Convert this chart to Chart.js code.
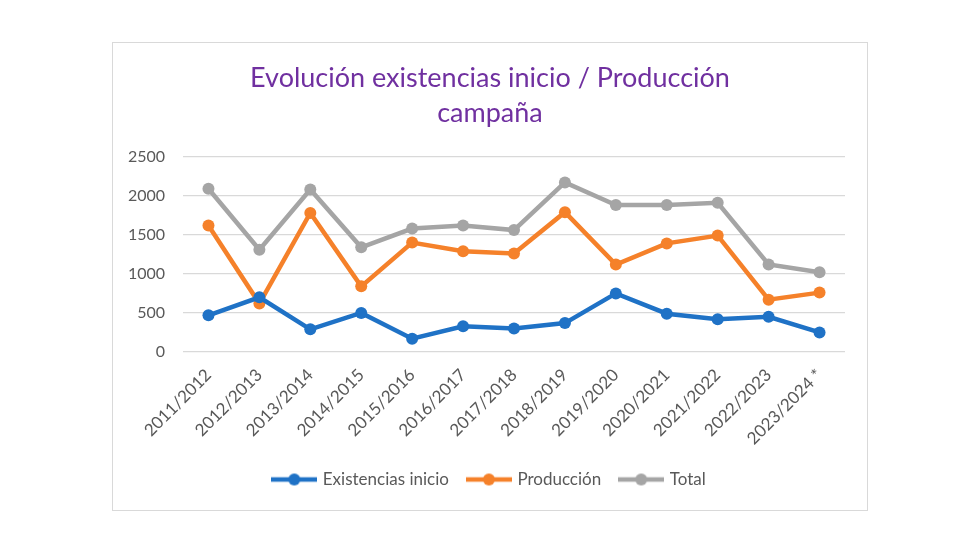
<!DOCTYPE html>
<html>
<head>
<meta charset="utf-8">
<script src="https://cdn.jsdelivr.net/npm/chart.js@4/dist/chart.umd.min.js"></script>
<style>
  body { margin: 0; background: #ffffff; }
  #box {
    position: absolute; left: 112px; top: 42px;
    width: 754px; height: 467px;
    border: 1px solid #d9d9d9; background: #ffffff;
  }
</style>
</head>
<body>
<div id="box"><canvas id="evolucionChart" width="754" height="467"></canvas></div>
<script>
var campanas = ['2011/2012', '2012/2013', '2013/2014', '2014/2015', '2015/2016', '2016/2017',
    '2017/2018', '2018/2019', '2019/2020', '2020/2021', '2021/2022', '2022/2023', '2023/2024 *'];
var existenciasInicio = [470, 700, 290, 500, 170, 330, 300, 370, 750, 490, 420, 450, 250];
var produccion = [1620, 620, 1780, 840, 1400, 1290, 1260, 1790, 1120, 1390, 1490, 670, 760];
var total = [2090, 1310, 2080, 1340, 1580, 1620, 1560, 2170, 1880, 1880, 1910, 1120, 1020];
var yTicks = [0, 500, 1000, 1500, 2000, 2500];

document.addEventListener('DOMContentLoaded', function() {
    var font = "Lato, 'Open Sans', sans-serif";

    // legend marker: short line with a dot in the middle
    function legendMarker(color) {
        var c = document.createElement('canvas');
        c.width = 46;
        c.height = 14;
        var g = c.getContext('2d');
        g.strokeStyle = color;
        g.lineWidth = 4.5;
        g.beginPath();
        g.moveTo(0, 7);
        g.lineTo(46, 7);
        g.stroke();
        g.fillStyle = color;
        g.beginPath();
        g.arc(23, 7, 6, 0, Math.PI * 2);
        g.fill();
        return c;
    }

    function serie(label, data, color) {
        return {
            label: label,
            data: data,
            borderColor: color,
            backgroundColor: color,
            borderWidth: 4.5,
            pointRadius: 6,
            pointHoverRadius: 6,
            pointBorderWidth: 0,
            pointStyle: 'circle',
            tension: 0,
            marker: legendMarker(color)
        };
    }

    var ctx = document.getElementById('evolucionChart').getContext('2d');
    new Chart(ctx, {
        type: 'line',
        data: {
            labels: campanas,
            datasets: [
                serie('Existencias inicio', existenciasInicio, '#1f72c6'),
                serie('Producción', produccion, '#f5812a'),
                serie('Total', total, '#a5a5a5')
            ]
        },
        options: {
            responsive: false,
            animation: false,
            layout: { padding: { left: 10, right: 10, top: 8, bottom: 12 } },
            plugins: {
                title: {
                    display: true,
                    text: ['Evolución existencias inicio / Producción', 'campaña'],
                    color: '#7030a0',
                    font: { family: font, size: 27, weight: 'normal', lineHeight: 1.29 },
                    padding: { top: 10, bottom: 26 }
                },
                legend: {
                    position: 'bottom',
                    labels: {
                        color: '#595959',
                        font: { family: font, size: 17 },
                        usePointStyle: true,
                        pointStyleWidth: 40,
                        padding: 20,
                        generateLabels: function(chart) {
                            return chart.data.datasets.map(function(ds, i) {
                                return {
                                    text: ds.label,
                                    fontColor: '#595959',
                                    pointStyle: ds.marker,
                                    fillStyle: ds.borderColor,
                                    strokeStyle: ds.borderColor,
                                    lineWidth: 0,
                                    hidden: false,
                                    datasetIndex: i
                                };
                            });
                        }
                    }
                },
                tooltip: { enabled: false }
            },
            scales: {
                y: {
                    min: 0,
                    max: 2500,
                    afterBuildTicks: function(axis) {
                        axis.ticks = yTicks.map(function(v) { return { value: v }; });
                    },
                    afterFit: function(axis) { axis.width = 60; },
                    grid: { color: '#d9d9d9', lineWidth: 1.3, drawTicks: false },
                    border: { display: false },
                    ticks: {
                        color: '#595959',
                        font: { family: font, size: 16 },
                        padding: 18,
                        callback: function(v) { return String(v); }
                    }
                },
                // empty right axis, only keeps a small gap at the right of the plot
                yGap: {
                    position: 'right',
                    afterFit: function(axis) { axis.width = 12; },
                    grid: { display: false, drawTicks: false },
                    border: { display: false },
                    ticks: { display: false }
                },
                x: {
                    offset: true,
                    afterFit: function(axis) { axis.height = 99; },
                    grid: { display: false, drawTicks: false },
                    border: { display: false },
                    ticks: {
                        color: '#595959',
                        font: { family: font, size: 17 },
                        minRotation: 45,
                        maxRotation: 45,
                        autoSkip: false,
                        padding: 13
                    }
                }
            }
        }
    });
});
</script>
</body>
</html>
